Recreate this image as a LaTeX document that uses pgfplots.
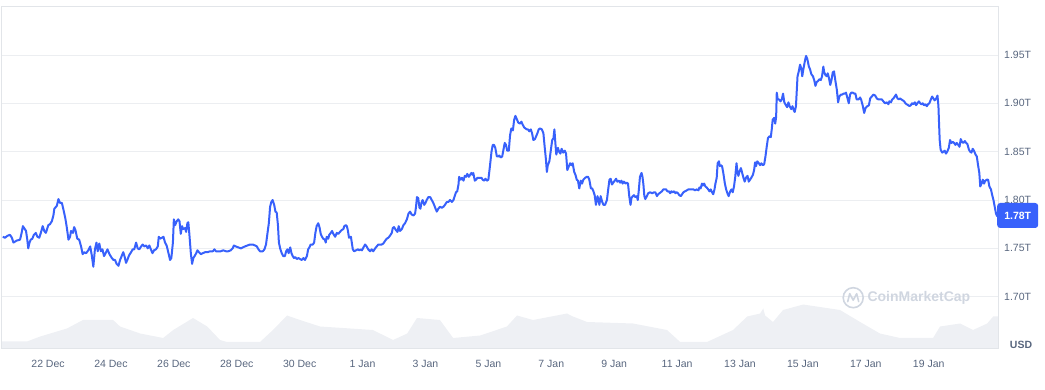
\documentclass[border=0pt]{standalone}
\usepackage{fontspec}
\setmainfont{Liberation Sans}
\usepackage{pgfplots}
\usepackage{pgfplotstable}
\pgfplotsset{compat=1.18}
\definecolor{cmcblue}{RGB}{56,97,251}
\definecolor{cmcgray}{RGB}{88,102,126}
\definecolor{gridgray}{RGB}{236,238,241}
\definecolor{framegray}{RGB}{226,229,233}
\definecolor{volgray}{RGB}{238,240,244}
\definecolor{wmgray}{RGB}{208,214,224}

\pgfplotstableread{
d v
-1.44 1.762
-1.37 1.761
-1.29 1.763
-1.21 1.764
-1.15 1.761
-1.10 1.756
-1.05 1.757
-1.00 1.758
-0.89 1.759
-0.84 1.766
-0.80 1.773
-0.76 1.771
-0.70 1.768
-0.66 1.759
-0.63 1.750
-0.59 1.756
-0.55 1.759
-0.50 1.760
-0.45 1.764
-0.39 1.766
-0.34 1.762
-0.28 1.761
-0.23 1.766
-0.17 1.773
-0.12 1.768
-0.07 1.766
-0.04 1.769
0.01 1.774
0.06 1.775
0.12 1.778
0.17 1.784
0.20 1.791
0.28 1.794
0.33 1.801
0.38 1.797
0.44 1.797
0.49 1.790
0.55 1.781
0.59 1.773
0.65 1.759
0.70 1.762
0.73 1.768
0.79 1.766
0.83 1.772
0.87 1.769
0.93 1.760
0.99 1.759
1.05 1.752
1.10 1.744
1.15 1.746
1.21 1.745
1.28 1.748
1.34 1.752
1.39 1.743
1.44 1.731
1.49 1.749
1.54 1.756
1.58 1.747
1.63 1.755
1.68 1.747
1.73 1.749
1.78 1.742
1.83 1.745
1.89 1.749
1.94 1.745
1.97 1.743
2.03 1.740
2.08 1.738
2.13 1.738
2.18 1.734
2.24 1.732
2.29 1.738
2.34 1.742
2.39 1.746
2.43 1.742
2.48 1.735
2.52 1.738
2.58 1.743
2.64 1.746
2.69 1.749
2.74 1.749
2.80 1.756
2.85 1.750
2.90 1.749
2.96 1.752
3.01 1.754
3.06 1.752
3.12 1.753
3.17 1.750
3.22 1.753
3.27 1.749
3.32 1.745
3.37 1.748
3.43 1.749
3.49 1.752
3.52 1.762
3.56 1.760
3.62 1.761
3.67 1.762
3.72 1.756
3.77 1.753
3.83 1.745
3.88 1.738
3.92 1.740
3.97 1.756
4.00 1.780
4.04 1.774
4.09 1.778
4.14 1.780
4.18 1.778
4.22 1.765
4.26 1.773
4.30 1.770
4.36 1.771
4.39 1.767
4.43 1.776
4.46 1.777
4.49 1.766
4.54 1.745
4.58 1.734
4.62 1.740
4.66 1.742
4.71 1.745
4.75 1.748
4.80 1.746
4.86 1.744
4.92 1.745
4.99 1.746
5.07 1.746
5.15 1.747
5.24 1.747
5.29 1.749
5.34 1.747
5.42 1.747
5.49 1.747
5.57 1.748
5.66 1.747
5.73 1.747
5.81 1.748
5.87 1.750
5.91 1.753
5.97 1.752
6.05 1.751
6.13 1.750
6.19 1.751
6.26 1.752
6.34 1.753
6.42 1.754
6.51 1.754
6.58 1.753
6.64 1.752
6.69 1.749
6.74 1.747
6.83 1.747
6.88 1.749
6.93 1.754
6.97 1.764
7.02 1.776
7.06 1.793
7.10 1.798
7.14 1.800
7.19 1.795
7.23 1.788
7.27 1.787
7.31 1.774
7.34 1.756
7.38 1.750
7.43 1.745
7.48 1.742
7.53 1.742
7.57 1.747
7.61 1.749
7.65 1.745
7.70 1.751
7.74 1.745
7.78 1.742
7.82 1.740
7.86 1.741
7.91 1.739
7.96 1.740
8.01 1.739
8.07 1.738
8.12 1.740
8.17 1.738
8.23 1.742
8.27 1.749
8.31 1.751
8.35 1.754
8.42 1.754
8.46 1.756
8.50 1.766
8.54 1.773
8.59 1.776
8.63 1.772
8.67 1.765
8.71 1.762
8.75 1.760
8.80 1.759
8.83 1.756
8.86 1.762
8.91 1.760
8.94 1.764
8.99 1.766
9.03 1.768
9.07 1.765
9.13 1.762
9.18 1.766
9.23 1.765
9.28 1.767
9.34 1.769
9.39 1.770
9.42 1.773
9.47 1.774
9.50 1.773
9.53 1.769
9.57 1.761
9.63 1.762
9.69 1.749
9.73 1.747
9.79 1.748
9.85 1.749
9.90 1.748
9.94 1.749
9.98 1.748
10.03 1.751
10.08 1.754
10.13 1.752
10.18 1.749
10.24 1.747
10.29 1.749
10.34 1.747
10.40 1.750
10.45 1.752
10.50 1.754
10.56 1.754
10.61 1.754
10.66 1.755
10.72 1.758
10.77 1.760
10.82 1.761
10.87 1.763
10.93 1.766
10.96 1.771
11.00 1.772
11.06 1.769
11.11 1.767
11.15 1.773
11.19 1.768
11.25 1.770
11.30 1.774
11.35 1.776
11.41 1.780
11.46 1.786
11.51 1.788
11.56 1.785
11.62 1.784
11.67 1.786
11.70 1.793
11.73 1.803
11.77 1.802
11.81 1.792
11.84 1.791
11.87 1.797
11.91 1.800
11.96 1.795
12.00 1.797
12.04 1.800
12.09 1.803
12.15 1.803
12.20 1.800
12.25 1.797
12.31 1.792
12.36 1.788
12.41 1.791
12.46 1.793
12.52 1.792
12.57 1.793
12.62 1.795
12.68 1.798
12.73 1.798
12.78 1.800
12.84 1.798
12.89 1.800
12.93 1.804
12.97 1.808
13.01 1.809
13.05 1.816
13.07 1.824
13.12 1.821
13.16 1.823
13.21 1.820
13.25 1.825
13.29 1.824
13.33 1.827
13.38 1.824
13.42 1.826
13.46 1.828
13.50 1.826
13.52 1.828
13.57 1.820
13.61 1.821
13.65 1.823
13.71 1.823
13.78 1.823
13.82 1.821
13.86 1.820
13.91 1.822
13.95 1.820
14.00 1.821
14.05 1.835
14.10 1.850
14.14 1.857
14.18 1.857
14.22 1.854
14.27 1.845
14.31 1.845
14.35 1.846
14.39 1.844
14.44 1.845
14.48 1.852
14.52 1.859
14.56 1.857
14.60 1.851
14.65 1.851
14.69 1.867
14.73 1.874
14.78 1.872
14.82 1.883
14.86 1.887
14.90 1.884
14.95 1.880
15.01 1.879
15.05 1.881
15.09 1.878
15.14 1.875
15.18 1.874
15.22 1.873
15.26 1.873
15.30 1.871
15.35 1.873
15.39 1.869
15.43 1.862
15.48 1.863
15.52 1.866
15.56 1.869
15.60 1.873
15.64 1.874
15.70 1.873
15.75 1.869
15.79 1.855
15.83 1.842
15.86 1.829
15.89 1.836
15.94 1.840
15.98 1.850
16.03 1.862
16.07 1.864
16.10 1.873
16.13 1.859
16.16 1.847
16.21 1.854
16.25 1.850
16.29 1.848
16.33 1.853
16.38 1.849
16.43 1.851
16.47 1.848
16.51 1.831
16.56 1.835
16.60 1.838
16.64 1.836
16.68 1.838
16.73 1.829
16.77 1.826
16.81 1.821
16.85 1.820
16.89 1.812
16.94 1.820
16.98 1.817
17.02 1.821
17.08 1.823
17.13 1.824
17.17 1.824
17.21 1.821
17.26 1.812
17.30 1.812
17.34 1.809
17.38 1.805
17.42 1.795
17.47 1.804
17.50 1.800
17.53 1.795
17.57 1.804
17.62 1.798
17.66 1.795
17.71 1.795
17.77 1.800
17.81 1.811
17.85 1.821
17.89 1.822
17.93 1.816
17.97 1.818
18.02 1.820
18.06 1.822
18.10 1.819
18.15 1.820
18.19 1.818
18.23 1.820
18.27 1.817
18.31 1.819
18.36 1.817
18.40 1.818
18.44 1.817
18.48 1.804
18.52 1.795
18.55 1.802
18.59 1.804
18.63 1.805
18.67 1.803
18.72 1.804
18.75 1.800
18.78 1.809
18.82 1.824
18.87 1.828
18.90 1.824
18.93 1.816
18.96 1.804
18.99 1.801
19.04 1.804
19.08 1.807
19.14 1.808
19.21 1.807
19.27 1.808
19.31 1.808
19.36 1.804
19.40 1.806
19.44 1.807
19.48 1.808
19.52 1.809
19.56 1.811
19.61 1.811
19.65 1.811
19.69 1.809
19.74 1.809
19.78 1.807
19.82 1.809
19.86 1.808
19.91 1.809
19.95 1.807
19.99 1.808
20.03 1.807
20.07 1.805
20.12 1.804
20.16 1.806
20.20 1.808
20.25 1.809
20.31 1.810
20.36 1.811
20.41 1.811
20.47 1.811
20.52 1.811
20.57 1.810
20.63 1.811
20.68 1.810
20.71 1.813
20.75 1.812
20.79 1.817
20.82 1.815
20.86 1.817
20.90 1.814
20.94 1.813
20.99 1.811
21.03 1.809
21.07 1.811
21.11 1.808
21.15 1.806
21.19 1.811
21.22 1.817
21.26 1.823
21.29 1.838
21.33 1.840
21.36 1.835
21.39 1.836
21.43 1.835
21.47 1.828
21.52 1.817
21.56 1.811
21.60 1.807
21.64 1.804
21.69 1.809
21.73 1.811
21.77 1.808
21.81 1.814
21.85 1.824
21.89 1.838
21.92 1.829
21.95 1.825
21.98 1.829
22.03 1.833
22.07 1.828
22.11 1.823
22.15 1.819
22.19 1.823
22.24 1.825
22.28 1.819
22.32 1.821
22.36 1.823
22.41 1.826
22.45 1.831
22.48 1.839
22.51 1.835
22.55 1.840
22.60 1.838
22.64 1.836
22.68 1.838
22.73 1.836
22.77 1.837
22.81 1.845
22.85 1.855
22.89 1.864
22.94 1.866
22.98 1.865
23.01 1.873
23.04 1.883
23.09 1.885
23.12 1.879
23.15 1.886
23.17 1.911
23.20 1.904
23.24 1.904
23.29 1.902
23.33 1.904
23.37 1.910
23.41 1.901
23.46 1.898
23.50 1.896
23.54 1.901
23.58 1.897
23.63 1.894
23.67 1.897
23.71 1.893
23.74 1.891
23.78 1.897
23.83 1.928
23.87 1.933
23.91 1.940
23.95 1.936
23.98 1.928
24.02 1.936
24.06 1.943
24.10 1.949
24.14 1.946
24.19 1.938
24.23 1.935
24.27 1.930
24.32 1.928
24.36 1.924
24.40 1.918
24.44 1.922
24.48 1.923
24.53 1.925
24.57 1.924
24.61 1.928
24.65 1.938
24.68 1.932
24.72 1.929
24.76 1.928
24.79 1.931
24.83 1.926
24.87 1.919
24.91 1.924
24.95 1.932
24.99 1.933
25.03 1.924
25.08 1.914
25.12 1.901
25.16 1.907
25.21 1.909
25.25 1.909
25.29 1.910
25.33 1.910
25.37 1.911
25.42 1.905
25.46 1.900
25.50 1.909
25.54 1.911
25.59 1.911
25.63 1.910
25.67 1.910
25.71 1.904
25.77 1.904
25.82 1.906
25.85 1.904
25.90 1.898
25.95 1.890
25.99 1.895
26.05 1.897
26.10 1.898
26.14 1.905
26.19 1.907
26.24 1.909
26.30 1.908
26.35 1.905
26.40 1.904
26.46 1.904
26.51 1.904
26.56 1.902
26.61 1.900
26.67 1.901
26.72 1.899
26.75 1.902
26.80 1.901
26.84 1.904
26.88 1.905
26.92 1.907
26.96 1.909
27.01 1.905
27.05 1.904
27.09 1.905
27.13 1.904
27.18 1.903
27.22 1.902
27.26 1.900
27.30 1.899
27.35 1.898
27.39 1.897
27.43 1.898
27.47 1.900
27.51 1.899
27.56 1.901
27.60 1.898
27.64 1.900
27.69 1.902
27.73 1.900
27.77 1.899
27.81 1.900
27.85 1.898
27.90 1.899
27.94 1.897
27.98 1.899
28.02 1.900
28.07 1.904
28.11 1.907
28.15 1.905
28.19 1.903
28.24 1.905
28.28 1.908
28.31 1.897
28.33 1.879
28.35 1.862
28.38 1.852
28.43 1.849
28.47 1.850
28.51 1.851
28.55 1.848
28.59 1.850
28.64 1.854
28.68 1.862
28.72 1.859
28.77 1.860
28.81 1.859
28.85 1.857
28.89 1.859
28.94 1.857
28.98 1.855
29.02 1.863
29.06 1.860
29.10 1.859
29.15 1.861
29.19 1.859
29.23 1.858
29.28 1.852
29.32 1.850
29.36 1.849
29.40 1.853
29.44 1.851
29.49 1.847
29.53 1.845
29.57 1.836
29.61 1.828
29.64 1.814
29.68 1.817
29.72 1.821
29.76 1.817
29.80 1.820
29.85 1.821
29.89 1.821
29.93 1.814
29.98 1.811
30.02 1.805
30.06 1.800
30.10 1.793
30.14 1.786
30.18 1.783
}\pricetable

\pgfplotstableread{
d vol
-1.48 13
-0.67 13
-0.25 23
0.60 39
1.11 56
2.07 56
2.29 43
2.93 29
3.66 20
3.98 36
4.61 60
5.06 43
5.47 16
5.69 12
6.74 12
7.15 36
7.60 65
8.01 56
8.65 43
10.33 36
10.97 16
11.42 29
11.73 60
12.46 56
12.88 20
13.74 25
14.59 43
14.91 65
15.42 56
16.50 69
16.69 63
17.14 52
18.60 49
19.68 36
20.10 12
20.95 12
21.78 36
22.23 63
22.64 69
22.74 79
22.80 65
23.05 52
23.37 76
24.01 87
25.18 76
25.82 52
26.45 29
27.09 20
28.14 20
28.36 43
29.00 49
29.41 36
29.86 49
30.05 63
30.22 63
}\voltable

\begin{document}
\begin{tikzpicture}
% volume area (own scale, hidden)
\begin{axis}[
  scale only axis, width=997pt, height=342pt,
  xmin=-1.48, xmax=30.22, ymin=0, ymax=684,
  hide axis,
]
\addplot[fill=volgray, draw=none] table[x=d,y=vol]{\voltable} \closedcycle;
\end{axis}
% price
\begin{axis}[
  scale only axis, width=997pt, height=342pt,
  xmin=-1.48, xmax=30.22, ymin=1.647, ymax=2.0006,
  axis line style={draw=framegray, line width=0.8pt},
  ymajorgrids, grid style={draw=gridgray, line width=0.8pt},
  ytick={1.70,1.75,1.80,1.85,1.90,1.95},
  yticklabels={1.70T,1.75T,1.80T,1.85T,1.90T,1.95T},
  yticklabel pos=right,
  xtick={0,2,4,6,8,10,12,14,16,18,20,22,24,26,28},
  xticklabels={22 Dec,24 Dec,26 Dec,28 Dec,30 Dec,1 Jan,3 Jan,5 Jan,7 Jan,9 Jan,11 Jan,13 Jan,15 Jan,17 Jan,19 Jan},
  major tick length=0pt,
  tick label style={font=\fontsize{10.5}{12}\selectfont, text=cmcgray, inner sep=0pt},
  yticklabel style={anchor=west, xshift=5.5pt},
  xticklabel style={anchor=north, yshift=-12pt},
]
\addplot[cmcblue, line width=2pt, line join=round] table[x=d,y=v]{\pricetable};
\coordinate (sw) at (rel axis cs:0,0);
\coordinate (ne) at (rel axis cs:1,1);
\coordinate (se) at (rel axis cs:1,0);
\coordinate (badge) at (axis cs:30.22,1.784);
\coordinate (wmlogo) at (axis cs:25.60,1.699);
\coordinate (wmtext) at (axis cs:26.05,1.699);
\end{axis}
% watermark
\draw[wmgray, line width=1.6pt] (wmlogo) circle (10pt);
\draw[wmgray, line width=1.6pt, line join=round, line cap=round]
  ([shift={(-5.5pt,-4pt)}]wmlogo) -- ([shift={(-3.5pt,4pt)}]wmlogo) -- ([shift={(0pt,-2.5pt)}]wmlogo) -- ([shift={(3.5pt,4pt)}]wmlogo) -- ([shift={(5.5pt,-4pt)}]wmlogo);
\node[anchor=west, text=wmgray, font=\bfseries\fontsize{14}{16}\selectfont, inner sep=0pt] at (wmtext) {CoinMarketCap};
% current value badge
\node[fill=cmcblue, text=white, font=\bfseries\fontsize{10.5}{12}\selectfont, rounded corners=3pt,
  minimum width=41pt, minimum height=25pt, inner sep=0pt, anchor=west] at ([xshift=-1.5pt]badge) {1.78T};
% currency
\node[text=cmcgray, font=\bfseries\fontsize{10.5}{12}\selectfont, inner sep=0pt] at ([shift={(22.5pt,3pt)}]se) {USD};
\pgfresetboundingbox
\path ([shift={(-1.5pt,-42pt)}]sw) rectangle ([shift={(46.5pt,6pt)}]ne);
\end{tikzpicture}
\end{document}
